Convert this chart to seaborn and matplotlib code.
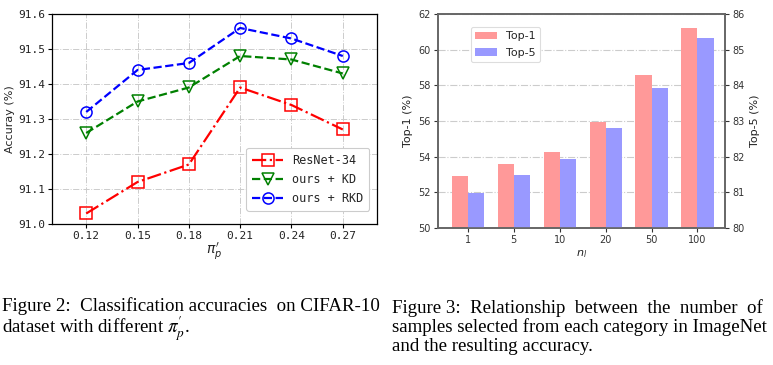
import numpy as np
import pandas as pd
import matplotlib
matplotlib.use("Agg")
import matplotlib.pyplot as plt
import seaborn as sns
from matplotlib.patches import Patch

# ---------------- data ----------------
pi_vals = [0.12, 0.15, 0.18, 0.21, 0.24, 0.27]
pi_labels = ["0.12", "0.15", "0.18", "0.21", "0.24", "0.27"]
resnet34 = [91.03, 91.12, 91.17, 91.39, 91.34, 91.27]
ours_kd = [91.26, 91.35, 91.39, 91.48, 91.47, 91.43]
ours_rkd = [91.32, 91.44, 91.46, 91.56, 91.53, 91.48]

n_labels = ["1", "5", "10", "20", "50", "100"]
top1 = [52.92, 53.58, 54.25, 55.93, 58.56, 61.2]
top5 = [80.98, 81.49, 81.94, 82.80, 83.93, 85.33]

sns.set_theme(style="white")
W, H = 773, 365
fig = plt.figure(figsize=(W / 100, H / 100), dpi=100)

def rect(l, t, r, b):
    return [l / W, 1 - b / H, (r - l) / W, (b - t) / H]

# ---------------- left panel ----------------
ax = fig.add_axes(rect(52, 14, 377, 224))
mono = "DejaVu Sans Mono"
series = [
    ("ResNet-34", resnet34, "red", "-.", "s"),
    ("ours + KD", ours_kd, "green", "--", "v"),
    ("ours + RKD", ours_rkd, "blue", "--", "o"),
]
for name, vals, col, ls, mk in series:
    df = pd.DataFrame({"x": pi_vals, "y": vals})
    sns.lineplot(data=df, x="x", y="y", ax=ax, color=col, linestyle=ls,
                 marker=mk, markersize=8, markerfacecolor="none",
                 markeredgecolor=col, markeredgewidth=1.1, linewidth=1.6,
                 label=name, sort=False)
ax.set_xlim(0.1, 0.29)
ax.set_ylim(91.0, 91.6)
ax.set_xticks(pi_vals)
ax.set_xticklabels(pi_labels)
ax.set_yticks([91.0, 91.1, 91.2, 91.3, 91.4, 91.5, 91.6])
ax.set_yticklabels(["91.0", "91.1", "91.2", "91.3", "91.4", "91.5", "91.6"])
for lab in ax.get_xticklabels() + ax.get_yticklabels():
    lab.set_fontfamily(mono)
    lab.set_fontsize(8)
    lab.set_color("#222222")
ax.tick_params(axis="both", which="major", length=3, width=0.8, color="black",
               direction="out", bottom=True, left=True, pad=2)
ax.grid(True, linestyle="-.", color="#cccccc", linewidth=0.7)
for s in ax.spines.values():
    s.set_color("black")
    s.set_linewidth(0.9)
ax.set_xlabel(r"$\pi^{\prime}_{p}$", fontsize=10, labelpad=0)
ax.set_ylabel("Accuray (%)", fontsize=8, labelpad=2)
leg = ax.legend(loc="lower right", prop={"family": mono, "size": 8.5},
                frameon=True, framealpha=1, edgecolor="#cccccc",
                handlelength=2.6, borderpad=0.5, labelspacing=0.5,
                bbox_to_anchor=(0.995, 0.035))
leg.get_frame().set_linewidth(0.8)

# ---------------- right panel ----------------
ax1 = fig.add_axes(rect(438, 14, 725, 228))
ax2 = ax1.twinx()
c1, c5 = "#ff9999", "#9999ff"
df1 = pd.DataFrame({"n": n_labels * 2,
                    "metric": ["Top-1"] * 6 + ["Top-5"] * 6,
                    "v": top1 + [np.nan] * 6})
df5 = pd.DataFrame({"n": n_labels * 2,
                    "metric": ["Top-1"] * 6 + ["Top-5"] * 6,
                    "v": [np.nan] * 6 + top5})
pal = {"Top-1": c1, "Top-5": c5}
sns.barplot(data=df1, x="n", y="v", hue="metric", hue_order=["Top-1", "Top-5"],
            order=n_labels, palette=pal, ax=ax1, width=0.7, saturation=1,
            legend=False, linewidth=0)
sns.barplot(data=df5, x="n", y="v", hue="metric", hue_order=["Top-1", "Top-5"],
            order=n_labels, palette=pal, ax=ax2, width=0.7, saturation=1,
            legend=False, linewidth=0)
ax1.set_xlim(-0.65, 5.6)
ax1.set_ylim(50, 62)
ax2.set_ylim(80, 86)
ax1.set_yticks([50, 52, 54, 56, 58, 60, 62])
ax2.set_yticks([80, 81, 82, 83, 84, 85, 86])
ax2.grid(False)
ax1.grid(True, axis="y", linestyle="-.", color="#cccccc", linewidth=0.8)
ax1.set_axisbelow(True)
for a in (ax1, ax2):
    a.tick_params(axis="both", labelsize=7, colors="#333333", length=3,
                  width=0.8, pad=2)
    for s in a.spines.values():
        s.set_color("#666666")
        s.set_linewidth(1.2)
ax1.tick_params(bottom=True, left=True)
ax2.tick_params(right=True)
ax1.set_xlabel(r"$n_l$", fontsize=8, color="#222222", labelpad=2)
ax1.set_ylabel("Top-1 (%)", fontsize=8, color="#222222", labelpad=4)
ax2.set_ylabel("Top-5 (%)", fontsize=8, color="#222222", labelpad=4)
handles = [Patch(facecolor=c1, edgecolor="none"), Patch(facecolor=c5, edgecolor="none")]
lg2 = ax1.legend(handles, ["Top-1", "Top-5"], loc="upper left",
                 bbox_to_anchor=(0.095, 0.965), fontsize=8, frameon=True,
                 framealpha=1, edgecolor="#dddddd", handlelength=2.0,
                 borderpad=0.4, labelspacing=0.55)
lg2.get_frame().set_linewidth(0.8)

# ---------------- captions ----------------
serif = "Liberation Serif"
CAP_FS = 13.6

def cap(x, y, s, fs=CAP_FS):
    fig.text(x / W, 1 - y / H, s, fontsize=fs, fontfamily=serif,
             math_fontfamily="stix", va="baseline", ha="left", color="black")

cap(2, 311, "Figure 2:  Classification accuracies  on CIFAR-10")
cap(2, 333, r"dataset with different $\pi^{\prime}_{p}$.")
cap(392, 313, "Figure 3:  Relationship  between  the  number  of")
cap(392, 332, "samples selected from each category in ImageNet")
cap(392, 351, "and the resulting accuracy.")

fig.savefig("out.png", dpi=100)
